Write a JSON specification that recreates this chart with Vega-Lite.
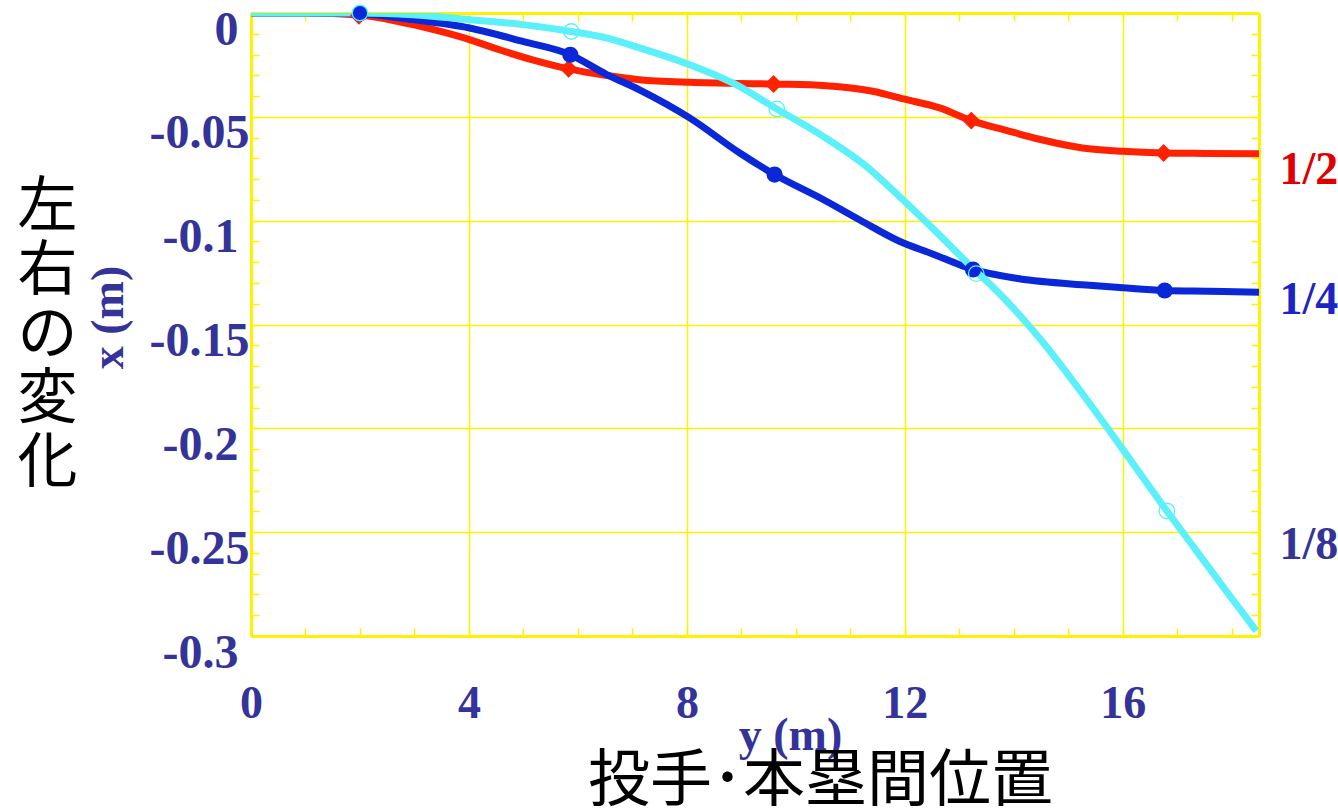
{
  "$schema": "https://vega.github.io/schema/vega-lite/v6.json",
  "width": 1008,
  "height": 623,
  "autosize": "none",
  "padding": {"left": 251, "top": 13, "right": 79, "bottom": 174},
  "background": "white",
  "config": {"view": {"stroke": null}},
  "datasets": {
    "curves": [
      {"series": "1/2", "dist": 0, "dev": 0},
      {"series": "1/2", "dist": 1, "dev": 0},
      {"series": "1/2", "dist": 2, "dev": -0.001},
      {"series": "1/2", "dist": 2.5, "dev": -0.003},
      {"series": "1/2", "dist": 2.97, "dev": -0.0056},
      {"series": "1/2", "dist": 3.5, "dev": -0.009},
      {"series": "1/2", "dist": 4.01, "dev": -0.0128},
      {"series": "1/2", "dist": 4.56, "dev": -0.0177},
      {"series": "1/2", "dist": 5.2, "dev": -0.0228},
      {"series": "1/2", "dist": 5.83, "dev": -0.0269},
      {"series": "1/2", "dist": 6.5, "dev": -0.03},
      {"series": "1/2", "dist": 7.13, "dev": -0.0321},
      {"series": "1/2", "dist": 8.05, "dev": -0.0334},
      {"series": "1/2", "dist": 9.59, "dev": -0.0342},
      {"series": "1/2", "dist": 10.56, "dev": -0.035},
      {"series": "1/2", "dist": 11.41, "dev": -0.0377},
      {"series": "1/2", "dist": 11.98, "dev": -0.0414},
      {"series": "1/2", "dist": 12.64, "dev": -0.0457},
      {"series": "1/2", "dist": 13.22, "dev": -0.0518},
      {"series": "1/2", "dist": 13.86, "dev": -0.0565},
      {"series": "1/2", "dist": 14.47, "dev": -0.0608},
      {"series": "1/2", "dist": 15.26, "dev": -0.065},
      {"series": "1/2", "dist": 16.0, "dev": -0.0666},
      {"series": "1/2", "dist": 16.75, "dev": -0.0674},
      {"series": "1/2", "dist": 17.5, "dev": -0.0676},
      {"series": "1/2", "dist": 18.5, "dev": -0.0678},
      {"series": "1/4", "dist": 0, "dev": 0},
      {"series": "1/4", "dist": 1, "dev": 0},
      {"series": "1/4", "dist": 2, "dev": -0.0004},
      {"series": "1/4", "dist": 2.97, "dev": -0.0032},
      {"series": "1/4", "dist": 4.01, "dev": -0.0072},
      {"series": "1/4", "dist": 4.99, "dev": -0.0137},
      {"series": "1/4", "dist": 5.86, "dev": -0.0201},
      {"series": "1/4", "dist": 6.52, "dev": -0.0295},
      {"series": "1/4", "dist": 7.13, "dev": -0.037},
      {"series": "1/4", "dist": 8.05, "dev": -0.0505},
      {"series": "1/4", "dist": 8.97, "dev": -0.0674},
      {"series": "1/4", "dist": 9.61, "dev": -0.0778},
      {"series": "1/4", "dist": 10.5, "dev": -0.0898},
      {"series": "1/4", "dist": 11.19, "dev": -0.0999},
      {"series": "1/4", "dist": 11.9, "dev": -0.1099},
      {"series": "1/4", "dist": 12.51, "dev": -0.116},
      {"series": "1/4", "dist": 13.25, "dev": -0.1235},
      {"series": "1/4", "dist": 14.1, "dev": -0.128},
      {"series": "1/4", "dist": 15.39, "dev": -0.1311},
      {"series": "1/4", "dist": 16.0, "dev": -0.1323},
      {"series": "1/4", "dist": 16.77, "dev": -0.1336},
      {"series": "1/4", "dist": 17.59, "dev": -0.134},
      {"series": "1/4", "dist": 18.5, "dev": -0.1345},
      {"series": "1/8", "dist": 0, "dev": 0},
      {"series": "1/8", "dist": 2, "dev": 0},
      {"series": "1/8", "dist": 2.97, "dev": -0.0008},
      {"series": "1/8", "dist": 4.01, "dev": -0.0032},
      {"series": "1/8", "dist": 4.99, "dev": -0.0056},
      {"series": "1/8", "dist": 5.88, "dev": -0.0089},
      {"series": "1/8", "dist": 6.52, "dev": -0.012},
      {"series": "1/8", "dist": 7.13, "dev": -0.0168},
      {"series": "1/8", "dist": 8.05, "dev": -0.0249},
      {"series": "1/8", "dist": 8.84, "dev": -0.0337},
      {"series": "1/8", "dist": 9.65, "dev": -0.0462},
      {"series": "1/8", "dist": 10.5, "dev": -0.0594},
      {"series": "1/8", "dist": 11.29, "dev": -0.0738},
      {"series": "1/8", "dist": 11.96, "dev": -0.0898},
      {"series": "1/8", "dist": 12.64, "dev": -0.107},
      {"series": "1/8", "dist": 13.31, "dev": -0.1245},
      {"series": "1/8", "dist": 13.61, "dev": -0.1318},
      {"series": "1/8", "dist": 14.5, "dev": -0.1575},
      {"series": "1/8", "dist": 15.3, "dev": -0.1848},
      {"series": "1/8", "dist": 16.12, "dev": -0.2145},
      {"series": "1/8", "dist": 16.81, "dev": -0.2398},
      {"series": "1/8", "dist": 17.16, "dev": -0.2522},
      {"series": "1/8", "dist": 17.96, "dev": -0.2805},
      {"series": "1/8", "dist": 18.45, "dev": -0.2975}
    ],
    "marks": [
      {"series": "1/2", "dist": 1.98, "dev": -0.0013},
      {"series": "1/2", "dist": 5.83, "dev": -0.0269},
      {"series": "1/2", "dist": 9.59, "dev": -0.0342},
      {"series": "1/2", "dist": 13.22, "dev": -0.0518},
      {"series": "1/2", "dist": 16.75, "dev": -0.0674},
      {"series": "1/4", "dist": 2.0, "dev": -0.0003},
      {"series": "1/4", "dist": 5.86, "dev": -0.0201},
      {"series": "1/4", "dist": 9.61, "dev": -0.0778},
      {"series": "1/4", "dist": 13.25, "dev": -0.1235},
      {"series": "1/4", "dist": 16.77, "dev": -0.1336},
      {"series": "1/8", "dist": 2.0, "dev": 0},
      {"series": "1/8", "dist": 5.88, "dev": -0.0089},
      {"series": "1/8", "dist": 9.65, "dev": -0.0462},
      {"series": "1/8", "dist": 13.31, "dev": -0.1255},
      {"series": "1/8", "dist": 16.81, "dev": -0.2398}
    ]
  },
  "resolve": {"axis": {"x": "independent", "y": "independent"}},
  "layer": [
    {
      "data": {"name": "curves"},
      "mark": {"type": "line", "strokeWidth": 7, "interpolate": "monotone", "clip": true},
      "encoding": {
        "x": {"field": "dist", "type": "quantitative",
          "scale": {"domain": [0, 18.5], "nice": false, "zero": false},
          "axis": {"orient": "bottom", "values": [0, 4, 8, 12, 16], "grid": true, "gridColor": "#fff200", "gridWidth": 1.5, "gridOpacity": 1,
            "ticks": false, "domain": false, "labelFont": "Liberation Serif", "labelFontWeight": "bold", "labelFontSize": 46,
            "labelColor": "#333399", "labelPadding": 45, "labelFlush": false, "labelOverlap": false, "labelBaseline": "top",
            "title": "y (m)", "titleFont": "Liberation Serif", "titleFontWeight": "bold", "titleFontSize": 46, "titleColor": "#333399",
            "titleX": 539, "titleY": 99, "titleAlign": "center", "titleBaseline": "middle", "titleAngle": 0}},
        "y": {"field": "dev", "type": "quantitative",
          "scale": {"domain": [-0.3, 0], "nice": false, "zero": false},
          "axis": {"orient": "left", "values": [0, -0.05, -0.1, -0.15, -0.2, -0.25, -0.3], "grid": true, "gridColor": "#fff200", "gridWidth": 1.5, "gridOpacity": 1,
            "ticks": false, "domain": false, "labelExpr": "length(toString(datum.value)) < 5 ? '' : toString(datum.value)",
            "labelFont": "Liberation Serif", "labelFontWeight": "bold", "labelFontSize": 48,
            "labelColor": "#333399", "labelPadding": 2, "labelOffset": 17, "labelAlign": "right", "labelBaseline": "middle", "labelFlush": false, "labelOverlap": false,
            "title": "x (m)", "titleFont": "Liberation Serif", "titleFontWeight": "bold", "titleFontSize": 46, "titleColor": "#333399",
            "titleX": -143, "titleY": 304, "titleAlign": "center", "titleBaseline": "middle", "titleAngle": 270}},
        "color": {"field": "series", "type": "nominal",
          "scale": {"domain": ["1/4", "1/8", "1/2"], "range": ["#0a28d8", "#5cf0fa", "#ff2200"]}, "legend": null}
      }
    },
    {
      "data": {"name": "marks"},
      "transform": [{"filter": "datum.series === '1/2'"}],
      "mark": {"type": "point", "shape": "diamond", "filled": true, "size": 320, "color": "#ff2200", "opacity": 1},
      "encoding": {
        "x": {"field": "dist", "type": "quantitative",
          "axis": {"orient": "top", "values": [0,1,2,3,4,5,6,7,8,9,10,11,12,13,14,15,16,17,18], "labels": false, "grid": false,
            "ticks": true, "tickSize": -8, "tickColor": "#fff200", "tickWidth": 1.5, "domain": true, "domainColor": "#fff200", "domainWidth": 3, "title": null}},
        "y": {"field": "dev", "type": "quantitative",
          "axis": {"orient": "right", "values": [0,-0.01,-0.02,-0.03,-0.04,-0.05,-0.06,-0.07,-0.08,-0.09,-0.1,-0.11,-0.12,-0.13,-0.14,-0.15,-0.16,-0.17,-0.18,-0.19,-0.2,-0.21,-0.22,-0.23,-0.24,-0.25,-0.26,-0.27,-0.28,-0.29,-0.3],
            "labels": false, "grid": false, "ticks": true, "tickSize": -8, "tickColor": "#fff200", "tickWidth": 1.5, "domain": true, "domainColor": "#fff200", "domainWidth": 3, "title": null}}
      }
    },
    {
      "data": {"name": "marks"},
      "transform": [{"filter": "datum.series === '1/4'"}],
      "mark": {"type": "point", "shape": "circle", "filled": true, "size": 260, "color": "#0a28d8", "opacity": 1},
      "encoding": {
        "x": {"field": "dist", "type": "quantitative",
          "axis": {"orient": "bottom", "values": [0,1,2,3,4,5,6,7,8,9,10,11,12,13,14,15,16,17,18], "labels": false, "grid": false,
            "ticks": true, "tickSize": -8, "tickColor": "#fff200", "tickWidth": 1.5, "domain": true, "domainColor": "#fff200", "domainWidth": 3,
            "title": "投手･本塁間位置", "titleFont": "Noto Sans CJK JP", "titleFontWeight": "normal", "titleFontSize": 62, "titleColor": "#000000",
            "titleX": 569, "titleY": 145, "titleAlign": "center", "titleBaseline": "middle", "titleAngle": 0}},
        "y": {"field": "dev", "type": "quantitative",
          "axis": {"orient": "left", "values": [0,-0.01,-0.02,-0.03,-0.04,-0.05,-0.06,-0.07,-0.08,-0.09,-0.1,-0.11,-0.12,-0.13,-0.14,-0.15,-0.16,-0.17,-0.18,-0.19,-0.2,-0.21,-0.22,-0.23,-0.24,-0.25,-0.26,-0.27,-0.28,-0.29,-0.3],
            "labels": false, "grid": false, "ticks": true, "tickSize": -8, "tickColor": "#fff200", "tickWidth": 1.5, "domain": true, "domainColor": "#fff200", "domainWidth": 3,
            "title": ["左", "右", "の", "変", "化"], "titleFont": "Noto Sans CJK JP", "titleFontWeight": "normal", "titleFontSize": 60, "titleColor": "#000000",
            "titleLineHeight": 64, "titleX": -204, "titleY": 194, "titleAlign": "center", "titleBaseline": "middle", "titleAngle": 0}}
      }
    },
    {
      "data": {"name": "marks"},
      "transform": [{"filter": "datum.series === '1/8'"}],
      "mark": {"type": "point", "shape": "circle", "filled": false, "size": 240, "color": "#5cf0fa", "strokeWidth": 1.3, "opacity": 1},
      "encoding": {
        "x": {"field": "dist", "type": "quantitative", "axis": null},
        "y": {"field": "dev", "type": "quantitative",
          "axis": {"orient": "right", "values": [-0.0755, -0.138, -0.2558], "grid": false, "ticks": false, "domain": false,
            "labelExpr": "datum.value > -0.1 ? '1/2' : (datum.value > -0.2 ? '1/4' : '1/8')",
            "labelFont": "Liberation Serif", "labelFontWeight": "bold", "labelFontSize": 46, "labelPadding": 20, "labelAlign": "left", "labelBaseline": "middle",
            "labelOverlap": false, "labelFlush": false,
            "labelColor": {"condition": [{"test": "datum.value > -0.1", "value": "#dd0000"}, {"test": "datum.value > -0.2", "value": "#1d24c4"}], "value": "#333399"},
            "title": null}}
      }
    },
    {
      "data": {"name": "marks"},
      "mark": {"type": "point", "opacity": 0, "size": 1},
      "encoding": {
        "x": {"field": "dist", "type": "quantitative", "axis": null},
        "y": {"field": "dev", "type": "quantitative",
          "axis": {"orient": "left", "values": [0, -0.1, -0.2, -0.3], "grid": false, "ticks": false, "domain": false,
            "labelExpr": "toString(datum.value)",
            "labelFont": "Liberation Serif", "labelFontWeight": "bold", "labelFontSize": 48,
            "labelColor": "#333399", "labelPadding": 13, "labelOffset": 17, "labelAlign": "right", "labelBaseline": "middle", "labelFlush": false, "labelOverlap": false,
            "title": null}}
      }
    }
  ]
}
